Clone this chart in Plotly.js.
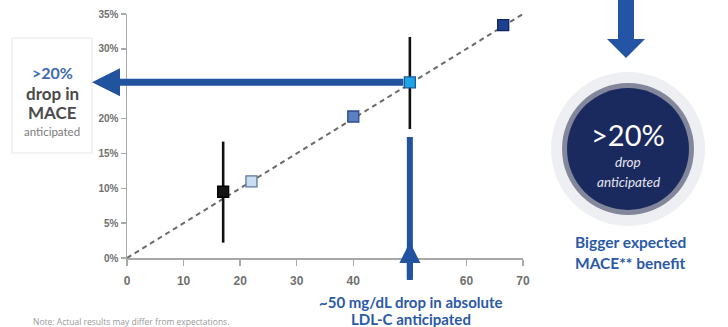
<!DOCTYPE html>
<html>
<head>
<meta charset="utf-8">
<script src="https://cdn.plot.ly/plotly-3.0.1.min.js"></script>
<style>html,body{margin:0;padding:0;background:#fff;}#chart{width:728px;height:327px;}</style>
</head>
<body>
<div id="chart"></div>
<script>
// ---- data ----
var ldlDrop  = [17, 22, 40, 50, 66.5];          // mg/dL drop in LDL-C
var maceDrop = [9.5, 11.0, 20.3, 25.2, 33.4];   // % drop in MACE
var pointFill = ['#151515', '#c9dcf2', '#5a7fc2', '#1ea4e3', '#1d3f8f'];
var pointEdge = ['#000000', '#5f7896', '#2b4a8c', '#1a5a9e', '#0f2560'];
var ciX    = [17, 50];
var ciMid  = [9.5, 25.2];
var ciLow  = [2.2, 18.5];
var ciHigh = [16.7, 31.7];
var trendX = [0, 70];
var trendY = [0, 35];
var xTicks = [0, 10, 20, 30, 40, 60, 70];
var yTicks = [0, 5, 10, 15, 20, 30, 35];
var yTickText = ['0%', '5%', '10%', '15%', '20%', '30%', '35%'];

// ---- layout geometry (pixels) ----
var W = 728, H = 327, L = 127, R = 205, T = 14, B = 69;
var pw = W - L - R, ph = H - T - B;
function px(xp) { return (xp - L) / pw; }     // page px -> paper x
function py(yp) { return (H - B - yp) / ph; } // page px -> paper y
function xPix(v) { return L + v / 70 * pw; }

var blue = '#2a59a6';
var arrowBlue = '#22539f';

var traces = [
  { x: trendX, y: trendY, mode: 'lines', type: 'scatter', hoverinfo: 'skip',
    line: { color: '#6a6a6a', width: 2, dash: '5px,4px' } },
  { x: ciX, y: ciMid, mode: 'markers', type: 'scatter', hoverinfo: 'skip',
    marker: { size: 1, color: 'rgba(0,0,0,0)' },
    error_y: { type: 'data', symmetric: false,
      array: ciHigh.map(function (h, i) { return h - ciMid[i]; }),
      arrayminus: ciLow.map(function (l, i) { return ciMid[i] - l; }),
      color: '#111', thickness: 2.6, width: 0 } },
  { x: ldlDrop, y: maceDrop, mode: 'markers', type: 'scatter',
    marker: { symbol: 'square', size: 11, color: pointFill,
      line: { color: pointEdge, width: 1.3 } } }
];

var ff = 'Lato, "Open Sans", sans-serif';
function txt(text, xp, yp, size, color, extra) {
  var a = { text: text, xref: 'paper', yref: 'paper', x: px(xp), y: py(yp),
    xanchor: 'center', yanchor: 'middle', showarrow: false,
    font: { family: ff, size: size, color: color } };
  if (extra) for (var k in extra) {
    if (k === 'font') for (var f in extra.font) a.font[f] = extra.font[f];
    else a[k] = extra[k];
  }
  return a;
}

var annotations = [
  // left box
  txt('>20%', 52, 72, 16, '#3d6ab3', { font: { weight: 'bold' } }),
  txt('drop in', 52, 93, 17, '#4a4a4a', { font: { weight: 'bold' } }),
  txt('MACE', 52, 113, 17, '#4a4a4a', { font: { weight: 'bold' } }),
  txt('anticipated', 52, 131, 11.5, '#7a7a7a'),
  // right circle text
  txt('>20%', 628, 134, 29, '#ffffff'),
  txt('drop', 628, 162, 13.5, '#e4e6ef', { font: { style: 'italic' } }),
  txt('anticipated', 628, 182, 13.5, '#e4e6ef', { font: { style: 'italic' } }),
  txt('Bigger expected', 630, 242, 15.5, blue, { font: { weight: 'bold' } }),
  txt('MACE** benefit', 630, 263, 15.5, blue, { font: { weight: 'bold' } }),
  // bottom
  txt('~50 mg/dL drop in absolute', 411, 302, 15, blue, { font: { weight: 'bold' } }),
  txt('LDL-C anticipated', 411, 319, 15, blue, { font: { weight: 'bold' } }),
  txt('Note: Actual results may differ from expectations.', 31, 321, 8.5, '#9a9a9a',
      { xanchor: 'left', font: { family: '"Open Sans", sans-serif' } }),
  // horizontal arrow: from cyan point to the left box
  { xref: 'paper', yref: 'y', x: px(92), y: maceDrop[3], text: '',
    showarrow: true, axref: 'pixel', ayref: 'pixel',
    ax: xPix(ldlDrop[3]) - 92, ay: 0, startstandoff: 5,
    arrowhead: 2, arrowsize: 0.8, arrowwidth: 7, arrowcolor: arrowBlue },
  // vertical arrow head pointing up
  { xref: 'x', yref: 'paper', x: ldlDrop[3], y: py(242), text: '',
    showarrow: true, axref: 'pixel', ayref: 'pixel', ax: 0, ay: 38,
    arrowhead: 2, arrowsize: 0.7, arrowwidth: 6, arrowcolor: arrowBlue }
];

var shapes = [
  // left box
  { type: 'rect', xref: 'paper', yref: 'paper', x0: px(12), x1: px(92), y0: py(153), y1: py(38),
    line: { color: '#e6e6e6', width: 1 }, fillcolor: '#ffffff', layer: 'below' },
  // vertical arrow shaft
  { type: 'line', xref: 'x', yref: 'paper', x0: ldlDrop[3], x1: ldlDrop[3], y0: py(280), y1: py(137),
    line: { color: arrowBlue, width: 6 } },
  // right circle layers
  { type: 'circle', xref: 'paper', yref: 'paper', x0: px(551), x1: px(705), y0: py(226), y1: py(72),
    line: { width: 0 }, fillcolor: '#eeeff2' },
  { type: 'circle', xref: 'paper', yref: 'paper', x0: px(562), x1: px(694), y0: py(215), y1: py(83),
    line: { width: 0 }, fillcolor: '#83879c' },
  { type: 'circle', xref: 'paper', yref: 'paper', x0: px(567), x1: px(689), y0: py(210), y1: py(88),
    line: { width: 0 }, fillcolor: '#1b2a5e' },
  // down arrow (right)
  { type: 'path', xref: 'paper', yref: 'paper',
    path: 'M ' + px(618) + ' ' + py(0) + ' L ' + px(634) + ' ' + py(0) +
          ' L ' + px(634) + ' ' + py(39) + ' L ' + px(645) + ' ' + py(39) +
          ' L ' + px(626) + ' ' + py(58) + ' L ' + px(607) + ' ' + py(39) +
          ' L ' + px(618) + ' ' + py(39) + ' Z',
    line: { width: 0 }, fillcolor: '#2455a5' }
];

var layout = {
  width: W, height: H,
  margin: { l: L, r: R, t: T, b: B, pad: 0 },
  paper_bgcolor: '#ffffff', plot_bgcolor: '#ffffff',
  showlegend: false,
  xaxis: { range: [0, 70], tickvals: xTicks, showgrid: false, zeroline: false,
    showline: true, linecolor: '#a8a8a8', linewidth: 1.5,
    ticks: 'outside', ticklen: 6, tickcolor: '#a8a8a8', tickwidth: 1.5, ticklabelstandoff: 5,
    tickfont: { family: '"Liberation Sans Narrow", "Liberation Sans", sans-serif', size: 12, color: '#707070', weight: 'bold' },
    fixedrange: true },
  yaxis: { range: [0, 35], tickvals: yTicks, ticktext: yTickText, showgrid: false, zeroline: false,
    showline: true, linecolor: '#a8a8a8', linewidth: 1.5,
    ticks: 'outside', ticklen: 5, tickcolor: '#a8a8a8', tickwidth: 1.5,
    tickfont: { family: '"Liberation Sans", Arial, sans-serif', size: 10, color: '#707070', weight: 'bold' },
    fixedrange: true },
  shapes: shapes,
  annotations: annotations
};

Plotly.newPlot('chart', traces, layout, { displayModeBar: false, staticPlot: true });
</script>
</body>
</html>
